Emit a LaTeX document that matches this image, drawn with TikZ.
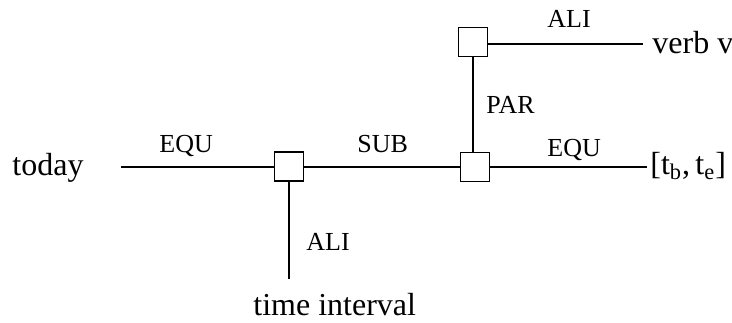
\documentclass[tikz,border=0pt]{standalone}
\usepackage{fontspec}
\setmainfont{Liberation Serif}
\begin{document}
\begin{tikzpicture}[x=0.5pt,y=-0.5pt,
  box/.style={draw, line width=0.9pt, minimum size=14.5pt, inner sep=0pt},
  lbl/.style={font=\fontsize{13}{15}\selectfont, inner sep=0pt, anchor=base west},
  txt/.style={font=\fontsize{16}{19}\selectfont, inner sep=0pt, anchor=base west},
  conn/.style={line width=0.9pt}]
\useasboundingbox (0,0) rectangle (732,322);
% boxes
\node[box] (b1) at (289,166.5) {};
\node[box] (b2) at (475,167) {};
\node[box] (b3) at (473,42) {};
% texts
\node[txt] (today) at (12,175) {today};
\node[txt] (ti) at (253,315) {time interval};
\node[txt] (verb) at (652,53) {verb v};
\node[txt] (tbte) at (650,174) {[t\textsubscript{b},\,t\textsubscript{e}]};
% labels
\node[lbl] (l1) at (159,152) {EQU};
\node[lbl] (l2) at (357,152) {SUB};
\node[lbl] (l3) at (306,250) {ALI};
\node[lbl] (l4) at (547,27) {ALI};
\node[lbl] (l5) at (486,113) {PAR};
\node[lbl] (l6) at (547,156) {EQU};
% free ends
\coordinate (c1) at (121,167);
\coordinate (c2) at (647,167);
\coordinate (c3) at (643,44);
\coordinate (c4) at (289,279);
% connectors
\draw[conn] (c1) -- (c1 -| b1.west);
\draw[conn] (b1.east |- c1) -- (b2.west |- c1);
\draw[conn] (b2.east |- c2) -- (c2);
\draw[conn] (b3.east |- c3) -- (c3);
\draw[conn] (b3.south) -- (b3.south |- b2.north);
\draw[conn] (b1.south) -- (c4);
\end{tikzpicture}
\end{document}
